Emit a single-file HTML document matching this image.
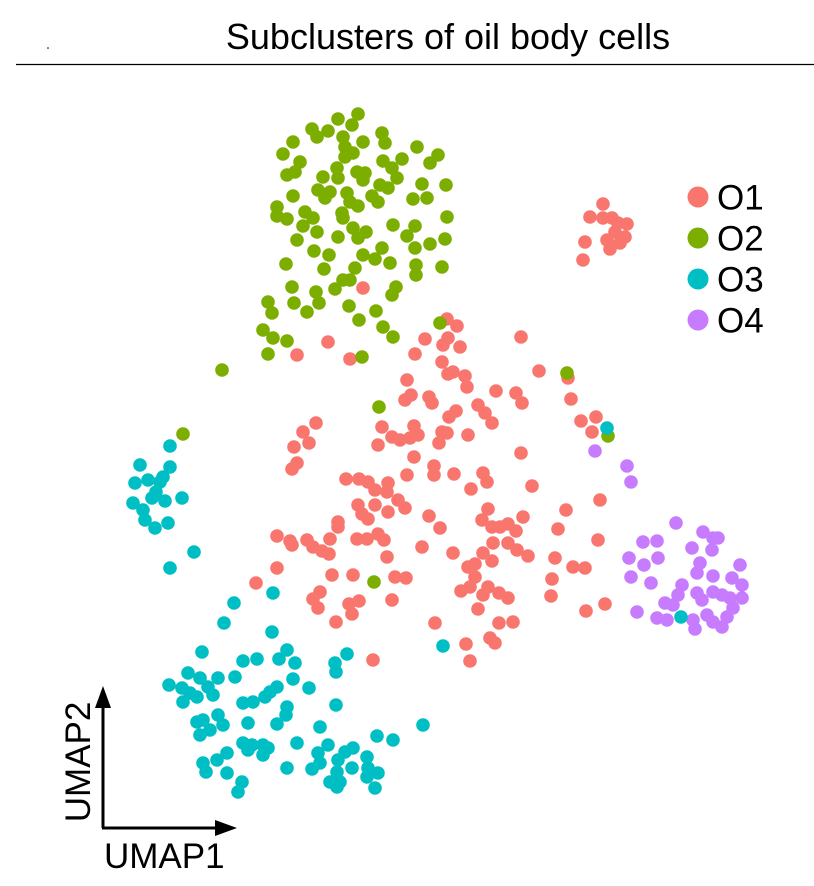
<!DOCTYPE html>
<html><head><meta charset="utf-8">
<style>
html,body{margin:0;padding:0;background:#fff;}
svg{display:block;font-family:"Liberation Sans",Arial,sans-serif;}
</style></head>
<body>
<svg id="chart" width="814" height="886" viewBox="0 0 814 886" xmlns="http://www.w3.org/2000/svg">
<text x="448" y="49" font-size="36" text-anchor="middle" fill="#000">Subclusters of oil body cells</text>
<line x1="16" y1="64.5" x2="814" y2="64.5" stroke="#000" stroke-width="1.3"/>
<circle cx="48" cy="48" r="0.8" fill="#000"/>
<g id="points"></g>
<g id="legend"></g>
<g>
<line x1="103" y1="828" x2="103" y2="700" stroke="#000" stroke-width="3"/>
<polygon points="103,686 95,708 111,708" fill="#000"/>
<line x1="102" y1="828" x2="222" y2="828" stroke="#000" stroke-width="3"/>
<polygon points="237,828 215,820 215,836" fill="#000"/>
<text x="104" y="868" font-size="35" fill="#000">UMAP1</text>
<text transform="translate(90,762) rotate(-90)" font-size="35" text-anchor="middle" fill="#000">UMAP2</text>
</g>
</svg>
<script>
const clusterNames = ["O1","O2","O3","O4"];
const clusterColors = ["#F8766D","#7CAE00","#00BFC4","#C77CFF"];
const o1Points = [[36.3,61.2],[32.8,55.8],[29.7,54.5],[35,54.1],[44.7,58.1],[45.7,57.4],[42.5,56.1],[44.8,56.2],[44.3,55.5],[46,55.3],[41.5,54.6],[52.1,56.3],[44.2,53.8],[44.8,52.6],[45.3,52.8],[46.5,52.4],[46.7,51.3],[53.9,52.9],[40.7,52],[56.8,52.2],[49.6,50.9],[51.6,50.7],[52.2,49.7],[57.1,50.1],[41.1,50.5],[40.5,50],[42.9,50.3],[43.2,49.7],[47.8,49.5],[48.5,48.7],[49.2,47.7],[45.6,48.9],[44.9,48.3],[58.1,47.9],[59.6,48.3],[59.2,46.8],[31.6,47.7],[30.3,46.8],[30.9,45.7],[29.4,45.3],[29.7,43.7],[29.2,43.1],[38.2,47.3],[37.8,45.5],[39.2,46.3],[40,46],[41,46.2],[41.4,47.4],[41.8,46.5],[44.2,46.8],[44.7,46.7],[43.9,45.7],[46.8,46.5],[41.4,44.3],[52.1,44.7],[43.4,43.4],[43.4,42.5],[45.4,42.6],[40.7,42.5],[48.3,42.7],[48.7,41.8],[47.1,41.1],[53.2,41.4],[34.6,42.1],[35.9,42.1],[36.8,41.8],[37.5,41],[38.8,41.7],[38.7,40.8],[39.8,40],[40.5,39.2],[37.5,39.5],[35.8,39.5],[36.2,38.6],[36.8,38.1],[38.8,38.8],[42.9,38.4],[44,37.2],[33.8,37.8],[33.8,37.3],[27.7,36.4],[29,35.9],[29.2,35.5],[30.7,36],[31.3,35.3],[32.2,34.9],[32.9,34.6],[33,36.1],[35.7,36.1],[36.7,36.1],[37.8,36.6],[38.4,36],[38.7,34.3],[42.2,35.3],[45.3,34.7],[48.8,39.1],[48.2,38],[49.2,37.3],[50,37.3],[50.8,37.6],[51.6,36.9],[52.3,38.3],[49.3,35.7],[48.3,34.7],[49.2,33.9],[50.8,35.7],[51.7,35],[52.8,34.4],[46.8,33.3],[47.5,33.6],[47.5,32.3],[47,31.3],[46.1,30.9],[48.3,30.5],[48.8,31.3],[49.9,30.7],[50.8,30.2],[47.8,29.1],[56.6,39],[60,40],[55.8,37.1],[59.8,36],[55.5,34.2],[57.3,33.3],[58.5,33.2],[55.2,32.1],[55.1,30.4],[58.6,28.9],[60.5,29.6],[27.7,33.2],[33.2,32.5],[35.3,32.5],[39.5,32.3],[40.6,32.2],[31.3,30.1],[32,30.8],[31.8,29.2],[34.9,29.6],[35.9,29.9],[35.2,28.6],[39.2,30],[33.6,27.8],[43.5,27.7],[49.9,27.7],[51.3,27.8],[46.6,25.6],[49,26.2],[49.5,25.7],[47,23.9],[37.3,24],[25.6,31.7],[60.3,69.6],[59,68.3],[60.3,68.2],[61.2,68.2],[61.8,67.7],[62.7,67.6],[61.5,66.8],[62.5,66.3],[60.7,66],[58.5,65.8],[61,65.1],[62,65.7],[58.3,64]];
const o2Points = [[35.8,78.6],[33.8,78.1],[35.2,77.5],[31.2,77.1],[31.7,76.3],[32.8,76.9],[34.3,76.3],[38.2,76.7],[38.5,75.7],[36.3,75.8],[29.3,75.8],[41.7,75.3],[34.5,75.3],[28.3,74.6],[35.3,74.7],[34.5,74.3],[30,73.8],[38.3,73.9],[40.2,74.1],[43.8,74.5],[43,73.7],[28.7,72.5],[29.5,72.8],[33.7,73.2],[35.7,72.8],[36.5,72.7],[39.2,73.2],[39.7,72.2],[32.3,72.3],[33.8,72.2],[36.3,72],[38,71.5],[38.8,71.2],[42.2,71.6],[44.6,71.5],[31.8,71],[33,70.8],[34.7,70.7],[29.3,70.4],[32.5,70.2],[37.2,70.4],[35,69.8],[35.8,69.4],[37.8,69.8],[41.3,70.1],[42.7,70.2],[27.7,69.3],[27.7,68.4],[28.7,68.1],[30.5,68.8],[31.3,68.2],[30.3,67.4],[34.2,68.7],[34.3,68.2],[44.7,68.3],[31.7,66.8],[35.3,67.2],[36.6,66.8],[35.8,66.2],[39.3,67.5],[41.5,67.4],[33.8,66.3],[40.7,66.4],[29.7,66],[31.4,64.9],[32.9,64.5],[36.3,64.5],[37.5,64.1],[38.2,65.2],[39,63.7],[41.5,65.2],[43,65.6],[44.5,66.1],[28.6,63.6],[32.4,63.1],[35.5,63.2],[41.6,63.5],[41.6,62.5],[44.2,63.3],[34.3,62],[33.5,61.1],[35,62],[29.2,61.3],[31.6,60.8],[39.6,61.3],[39.2,60.5],[26.8,59.8],[27.2,58.7],[29.4,59.7],[31.9,59.7],[30.7,58.8],[34.9,59.4],[37.6,58.9],[35.9,58],[26.3,57],[27.3,56.2],[28.7,55.9],[38.3,57.3],[39.3,56.3],[26.8,54.6],[36.2,54.3],[44,57.7],[22.2,53],[18.3,46.6],[37.9,49.3],[37.4,31.8],[56.7,52.7],[60.8,46.4]];
const o3Points = [[17,45.4],[14,43.5],[17,43.3],[16.3,42.3],[14.8,42],[13.5,41.7],[16,41.8],[15.6,40.8],[15.2,40.2],[13.3,39.7],[16.5,39.9],[18.2,40.2],[14.3,39],[14.5,38],[15.5,37.2],[16.8,37.7],[19.4,34.8],[17,33.2],[27.3,30.7],[23.4,29.7],[22.4,27.7],[27.2,26.8],[20.2,24.8],[28.7,25],[25.7,24.1],[24.3,23.9],[27.9,24.1],[29.5,23.7],[34.7,24.6],[33.5,23.7],[33.6,22.8],[18.8,22.7],[20,22.2],[21.8,22.2],[23.5,22.3],[20.8,21.3],[16.9,21.5],[18.2,21.2],[19,20.7],[19.7,20.3],[21.3,20.5],[18.3,19.8],[29.3,22.1],[30.9,21.2],[27.7,21.3],[27,20.8],[26.5,20.3],[24.3,19.7],[25.3,19.8],[28.7,19.3],[33.6,19.5],[19.7,17.8],[20.3,18],[21.8,18.5],[22.3,17.5],[21,17],[20,16.5],[24.8,17.7],[27.7,17.6],[28.6,18.5],[32,17.3],[42.3,17.5],[24.3,15.7],[25.2,15.5],[26.3,15.5],[26.8,15.2],[24.8,15],[26.3,14.5],[29.7,15.7],[37.7,16.4],[39.3,16],[32.8,15.5],[35.3,15.2],[34.5,14.8],[31.8,14.7],[36.7,14.3],[20.3,13.7],[21.7,14],[22.7,14.7],[20.6,12.8],[22.7,12.7],[32,13.7],[33.8,14],[33.7,12.8],[35.2,13.2],[36.8,13.2],[37.8,12.7],[36.7,12.3],[28.7,13.2],[31.2,13.1],[33,11.8],[34,11.8],[33.7,11.3],[24.2,11.8],[23.8,10.8],[37.5,11.2],[44.3,25.4],[68.1,28.3],[60.7,47.2]];
const o4Points = [[59.5,44.9],[62.7,43.4],[63.1,41.8],[67.6,37.7],[70.3,36.8],[71.3,36.2],[71.8,36.2],[71.2,35],[64.3,35.8],[65.7,35.9],[69.2,35.2],[62.9,34.2],[64.4,33.5],[65.8,34.2],[70,33.7],[74,33.5],[69.7,32.7],[71.3,32.4],[63.1,32.3],[65.1,31.7],[73.2,32.2],[74.2,31.5],[68.2,31.5],[67.8,30.5],[69.7,30.7],[70.2,30],[71.3,30.8],[72.2,30.5],[73,30.2],[74.2,30.2],[73.3,29.2],[66.5,29.7],[67.3,29.5],[63.7,28.8],[65.7,28.2],[66.7,28],[69.3,28],[70.7,28.5],[71.3,27.8],[72.2,27.3],[72.7,28.3],[69.5,27.1]];

const NS = "http://www.w3.org/2000/svg";
function xScale(u){ return u * 10; }
function yScale(u){ return (90 - u) * 10; }

const g = document.getElementById("points");
const drawOrder = [[o1Points,0],[o4Points,3],[o2Points,1],[o3Points,2]];
drawOrder.forEach(function(pair){
  const pts = pair[0], ci = pair[1];
  pts.forEach(function(p){
    const c = document.createElementNS(NS,"circle");
    c.setAttribute("cx", xScale(p[0]));
    c.setAttribute("cy", yScale(p[1]));
    c.setAttribute("r", 6.8);
    c.setAttribute("fill", clusterColors[ci]);
    
    
    g.appendChild(c);
  });
});

const lg = document.getElementById("legend");
clusterNames.forEach(function(name, i){
  const cy = 197 + i * 41;
  const c = document.createElementNS(NS,"circle");
  c.setAttribute("cx", 698);
  c.setAttribute("cy", cy);
  c.setAttribute("r", 10.5);
  c.setAttribute("fill", clusterColors[i]);
  
  
  lg.appendChild(c);
  const t = document.createElementNS(NS,"text");
  t.setAttribute("x", 717);
  t.setAttribute("y", cy + 12.5);
  t.setAttribute("font-size", "35");
  t.setAttribute("fill", "#000");
  t.textContent = name;
  
  
  lg.appendChild(t);
});
</script>
</body></html>
